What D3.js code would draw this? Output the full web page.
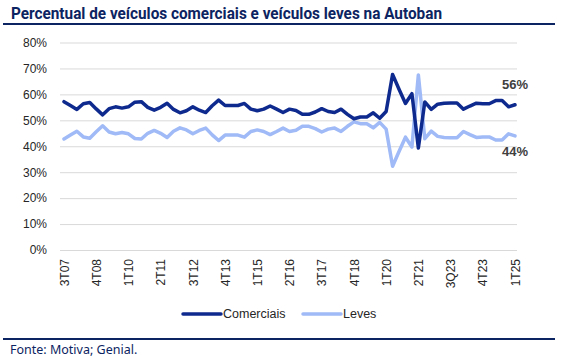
<!DOCTYPE html>
<html>
<head>
<meta charset="utf-8">
<script src="https://cdn.jsdelivr.net/npm/d3@7"></script>
<style>
  html, body { margin: 0; padding: 0; background: #ffffff; }
  svg { display: block; }
</style>
</head>
<body>
<svg id="chart" width="566" height="357"></svg>
<script>
// ---- Data ----
const categories = [
  "3T07","4T07","1T08","2T08","3T08","4T08","1T09","2T09","3T09","4T09",
  "1T10","2T10","3T10","4T10","1T11","2T11","3T11","4T11","1T12","2T12",
  "3T12","4T12","1T13","2T13","3T13","4T13","1T14","2T14","3T14","4T14",
  "1T15","2T15","3T15","4T15","1T16","2T16","3T16","4T16","1T17","2T17",
  "3T17","4T17","1T18","2T18","3T18","4T18","1T19","2T19","3T19","4T19",
  "1T20","2T20","3T20","4T20","1T21","2T21","3T21","4T21","1T22","2T22",
  "3Q23","4T22","1T23","2T23","3T23","4T23","1T24","2T24","3T24","4T24",
  "1T25"
];
const comerciais = [
  57.2,55.7,54.2,56.4,56.9,54.4,52.1,54.5,55.2,54.7,
  55.2,57.0,57.2,55.0,53.9,55.0,56.6,54.2,52.9,53.7,
  55.2,53.9,53.0,55.6,57.8,55.7,55.7,55.7,56.5,54.3,
  53.7,54.3,55.5,54.3,53.0,54.3,53.8,52.3,52.3,53.2,
  54.5,53.4,53.0,54.3,52.3,50.6,51.3,51.3,52.9,50.8,
  53.4,67.7,62.0,56.5,60.3,39.3,57.1,54.2,56.2,56.6,
  56.7,56.7,54.3,55.5,56.6,56.4,56.4,57.6,57.6,55.2,
  56.0
];
const leves = [
  42.8,44.3,45.8,43.6,43.1,45.6,47.9,45.5,44.8,45.3,
  44.8,43.0,42.8,45.0,46.1,45.0,43.4,45.8,47.1,46.3,
  44.8,46.1,47.0,44.4,42.2,44.3,44.3,44.3,43.5,45.7,
  46.3,45.7,44.5,45.7,47.0,45.7,46.2,47.7,47.7,46.8,
  45.5,46.6,47.0,45.7,47.7,49.4,48.7,48.7,47.1,49.2,
  46.6,32.3,38.0,43.5,39.7,67.5,42.9,45.8,43.8,43.4,
  43.3,43.3,45.7,44.5,43.4,43.6,43.6,42.4,42.4,44.8,
  44.0
];
const tickLabels = ["3T07","4T08","1T10","2T11","3T12","4T13","1T15","2T16","3T17","4T18","1T20","2T21","3Q23","4T23","1T25"];
const yTicks = [0,10,20,30,40,50,60,70,80];
const seriesNames = ["Comerciais","Leves"];
const endLabels = ["56%","44%"];

// ---- Styles / layout ----
const colors = { Comerciais: "#0f2a8e", Leves: "#9fbaf6" };
const navy = "#0c2461";
const svg = d3.select("#chart");

const plot = { left: 60, right: 517, top: 42.5, bottom: 250 };

const x = d3.scalePoint().domain(categories).range([64, 515]);
const y = d3.scaleLinear().domain([0, 80]).range([plot.bottom, plot.top]);

// Title
svg.append("text")
  .attr("x", 11).attr("y", 18.5)
  .attr("font-family", "Roboto, 'Noto Sans', sans-serif")
  .attr("font-weight", "bold")
  .attr("font-size", 16.5)
  .attr("fill", navy)
  .attr("textLength", 431)
  .attr("lengthAdjust", "spacingAndGlyphs")
  .text("Percentual de veículos comerciais e veículos leves na Autoban");

svg.append("line")
  .attr("x1", 3).attr("x2", 555).attr("y1", 24).attr("y2", 24)
  .attr("stroke", navy).attr("stroke-width", 2);

// Gridlines
const yAxis = d3.axisLeft(y).tickValues(yTicks).tickSize(-(plot.right - plot.left)).tickFormat(d => d + "%").tickPadding(13);
const gy = svg.append("g").attr("transform", `translate(${plot.left},0)`).call(yAxis);
gy.select(".domain").remove();
gy.selectAll(".tick line").attr("stroke", "#d9d9d9").attr("stroke-width", 1);
gy.selectAll(".tick text")
  .attr("font-family", "'Liberation Sans', Arial, sans-serif")
  .attr("font-size", 12)
  .attr("fill", "#262626");

// X axis labels
const xAxis = d3.axisBottom(x)
  .tickValues(categories.filter(c => tickLabels.includes(c)))
  .tickSize(0).tickPadding(0);
const gx = svg.append("g").attr("transform", `translate(0,${plot.bottom})`).call(xAxis);
gx.select(".domain").remove();
gx.selectAll(".tick text")
  .attr("font-family", "'Liberation Sans', Arial, sans-serif")
  .attr("font-size", 12)
  .attr("fill", "#262626")
  .attr("text-anchor", "end")
  .attr("transform", "rotate(-90)")
  .attr("x", -9)
  .attr("y", 0)
  .attr("dy", "0.35em");

// Lines
const series = [
  { name: "Leves", values: leves },
  { name: "Comerciais", values: comerciais }
];
const line = d3.line()
  .x((d, i) => x(categories[i]))
  .y(d => y(d));

svg.append("g").selectAll("path")
  .data(series)
  .join("path")
  .attr("d", d => line(d.values))
  .attr("fill", "none")
  .attr("stroke", d => colors[d.name])
  .attr("stroke-width", 3.5)
  .attr("stroke-linejoin", "round")
  .attr("stroke-linecap", "round");

// End labels
const last = categories[categories.length - 1];
svg.append("text")
  .attr("x", x(last)).attr("y", y(comerciais[comerciais.length - 1]) - 20)
  .attr("text-anchor", "middle")
  .attr("font-family", "'Liberation Sans', Arial, sans-serif")
  .attr("font-weight", "bold").attr("font-size", 13)
  .attr("fill", "#404040")
  .attr("dy", "0.35em")
  .text(endLabels[0]);
svg.append("text")
  .attr("x", x(last)).attr("y", y(leves[leves.length - 1]) + 16)
  .attr("text-anchor", "middle")
  .attr("font-family", "'Liberation Sans', Arial, sans-serif")
  .attr("font-weight", "bold").attr("font-size", 13)
  .attr("fill", "#404040")
  .attr("dy", "0.35em")
  .text(endLabels[1]);

// Legend
const legendItems = [
  { name: seriesNames[0], x: 183 },
  { name: seriesNames[1], x: 303 }
];
const lg = svg.append("g").selectAll("g").data(legendItems).join("g")
  .attr("transform", d => `translate(${d.x},314)`);
lg.append("line")
  .attr("x1", 0).attr("x2", 38).attr("y1", 0).attr("y2", 0)
  .attr("stroke", d => colors[d.name]).attr("stroke-width", 3.5)
  .attr("stroke-linecap", "round");
lg.append("text")
  .attr("x", 40).attr("y", 0).attr("dy", "0.35em")
  .attr("font-family", "'Liberation Sans', Arial, sans-serif")
  .attr("font-size", 12.5)
  .attr("fill", "#262626")
  .text(d => d.name);

// Bottom rule and source
svg.append("line")
  .attr("x1", 3).attr("x2", 555).attr("y1", 339).attr("y2", 339)
  .attr("stroke", navy).attr("stroke-width", 2);
svg.append("text")
  .attr("x", 10).attr("y", 354)
  .attr("font-family", "'Noto Sans', sans-serif")
  .attr("font-size", 12.5)
  .attr("fill", navy)
  .text("Fonte: Motiva; Genial.");
</script>
</body>
</html>
